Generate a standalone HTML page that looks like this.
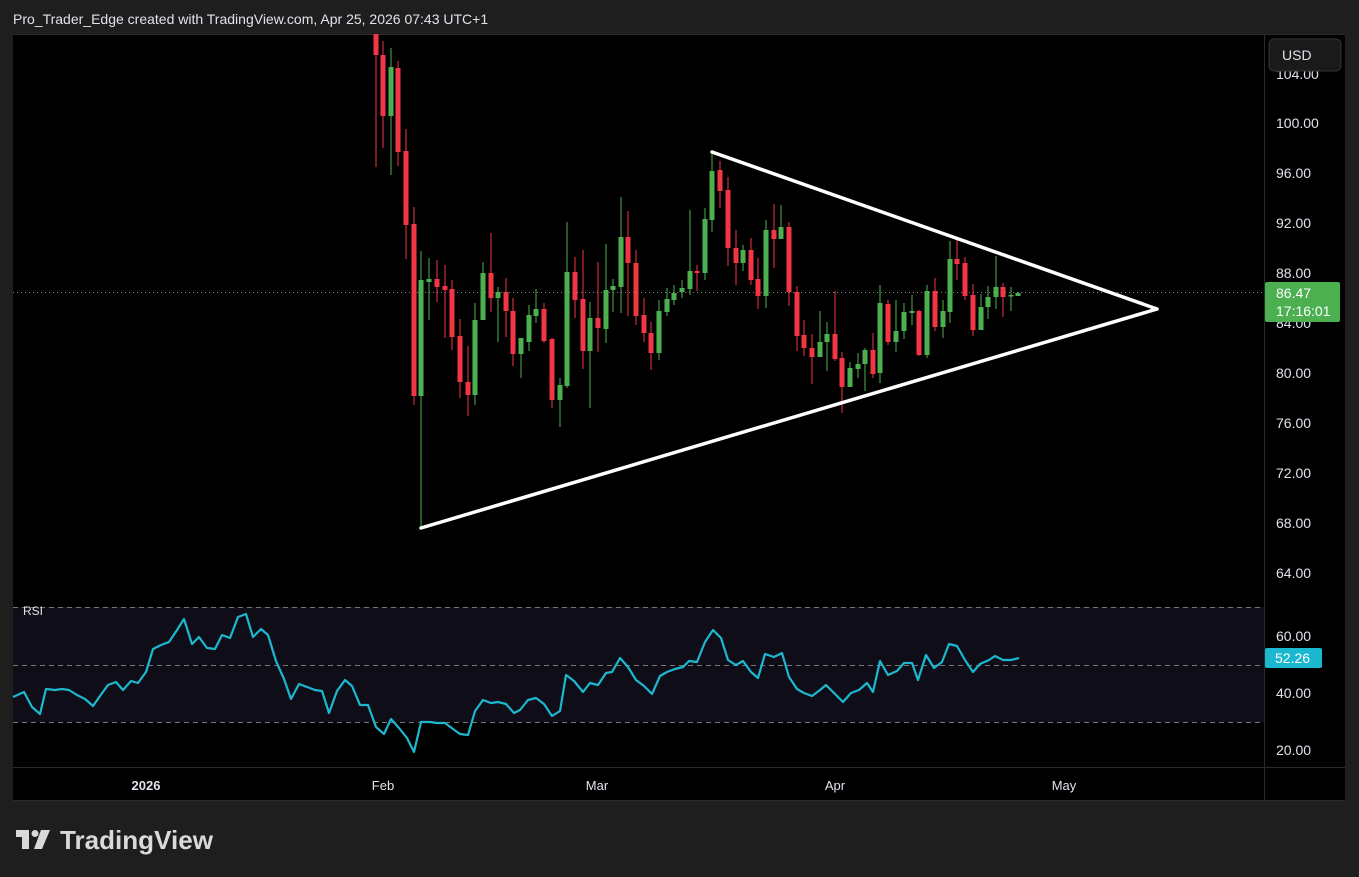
<!DOCTYPE html>
<html><head><meta charset="utf-8"><style>
html,body{margin:0;padding:0;background:#1e1e1e;width:1359px;height:877px;overflow:hidden}
svg{display:block;font-family:"Liberation Sans",sans-serif}
</style></head><body>
<svg id="s" width="1359" height="877" xmlns="http://www.w3.org/2000/svg">
<rect x="0" y="0" width="1359" height="877" fill="#1e1e1e"/>
<text x="13" y="24" fill="#e0e3eb" font-size="14">Pro_Trader_Edge created with TradingView.com, Apr 25, 2026 07:43 UTC+1</text>
<rect x="13" y="34" width="1332" height="767" fill="#000"/>
<rect x="13" y="607" width="1251" height="115" fill="#0f0d17"/>
<line x1="1264.5" y1="34" x2="1264.5" y2="801" stroke="#2a2a2a"/>
<line x1="13" y1="767.5" x2="1345" y2="767.5" stroke="#2a2a2a"/>
<line x1="13" y1="800.5" x2="1345" y2="800.5" stroke="#2a2a2a"/>
<line x1="13" y1="34.5" x2="1345" y2="34.5" stroke="#2a2a2a"/>
<g stroke="#777" stroke-dasharray="5,4" stroke-width="1">
<line x1="13" y1="607.5" x2="1264" y2="607.5"/>
<line x1="13" y1="665.5" x2="1264" y2="665.5"/>
<line x1="13" y1="722.5" x2="1264" y2="722.5"/>
</g>
<line x1="13" y1="292.5" x2="1264" y2="292.5" stroke="#888" stroke-dasharray="1,3"/>
<text x="23" y="615" fill="#e0e3eb" font-size="12">RSI</text>
<g id="c"></g>
<g stroke="#fff" stroke-width="3.5" stroke-linecap="round">
<line x1="712" y1="152" x2="1157" y2="309"/>
<line x1="421" y1="528" x2="1157" y2="309"/>
</g>
<polyline id="rsi" fill="none" stroke="#1cb8cf" stroke-width="2.2" stroke-linejoin="round"/>
<g fill="#e0e3eb" font-size="14">
<text x="1276" y="128">100.00</text>
<text x="1276" y="178">96.00</text>
<text x="1276" y="228">92.00</text>
<text x="1276" y="278">88.00</text>
<text x="1276" y="328">84.00</text>
<text x="1276" y="378">80.00</text>
<text x="1276" y="428">76.00</text>
<text x="1276" y="478">72.00</text>
<text x="1276" y="528">68.00</text>
<text x="1276" y="578">64.00</text>
<text x="1276" y="79">104.00</text>
<text x="1276" y="641">60.00</text>
<text x="1276" y="698">40.00</text>
<text x="1276" y="755">20.00</text>
<text x="146" y="790" text-anchor="middle" font-weight="bold" font-size="13">2026</text>
<text x="383" y="790" text-anchor="middle" font-size="13">Feb</text>
<text x="597" y="790" text-anchor="middle" font-size="13">Mar</text>
<text x="835" y="790" text-anchor="middle" font-size="13">Apr</text>
<text x="1064" y="790" text-anchor="middle" font-size="13">May</text>
</g>
<rect x="1269" y="39" width="72" height="32" rx="5" fill="#1a1a1a" stroke="#333"/>
<text x="1282" y="60" fill="#e0e3eb" font-size="14">USD</text>
<rect x="1265" y="282" width="75" height="40" rx="2" fill="#4caf50"/>
<text x="1276" y="298" fill="#fff" font-size="14">86.47</text>
<text x="1276" y="316" fill="#fff" font-size="14">17:16:01</text>
<rect x="1265" y="648" width="57" height="20" rx="2" fill="#1cb8cf"/>
<text x="1275" y="663" fill="#fff" font-size="14">52.26</text>
<g fill="#d9d9d9">
<rect x="16" y="830" width="13" height="7"/><rect x="22" y="830" width="7" height="19"/>
<circle cx="35" cy="833.5" r="3.5"/>
<polygon points="41,830 50,830 42,849 34,849"/>
<text x="60" y="849" font-size="26" font-weight="bold" textLength="153" lengthAdjust="spacingAndGlyphs">TradingView</text>
</g>
</svg>
<script>
var C=[[376,0,34,55,34,167],[383,0,55,116,41,148],[391,1,67,116,48,175],[398,0,68,152,61,166],[406,0,151,225,129,259],[414,0,224,396,207,405],[421,1,280,396,251,528],[429,1,279,282,258,320],[437,0,279,287,260,302],[445,0,286,290,265,338],[452,0,289,337,280,350],[460,0,336,382,319,398],[468,0,382,395,346,416],[475,1,320,395,303,405],[483,1,273,320,262,320],[491,0,273,298,233,312],[498,1,292,298,287,342],[506,0,292,311,278,337],[513,0,311,354,298,366],[521,1,338,354,338,378],[529,1,315,342,305,351],[536,1,309,316,289,323],[544,0,309,341,303,343],[552,0,339,400,338,408],[560,1,385,400,378,427],[567,1,272,386,222,388],[575,0,272,300,257,318],[583,0,299,351,250,369],[590,1,318,351,302,408],[598,0,318,328,262,352],[606,1,290,329,244,343],[613,1,286,290,279,312],[621,1,237,287,197,313],[628,0,237,263,211,316],[636,0,263,316,250,325],[644,0,315,333,298,342],[651,0,333,353,322,370],[659,1,311,353,300,360],[667,1,299,312,288,316],[674,1,293,300,285,305],[682,1,288,292,280,298],[690,1,271,289,210,295],[697,0,271,273,265,291],[705,1,219,273,208,280],[712,1,171,220,152,232],[720,0,170,191,161,208],[728,0,190,248,177,266],[736,0,248,263,230,285],[743,1,250,263,245,271],[751,0,250,280,238,285],[758,0,279,296,258,309],[766,1,230,296,220,308],[774,0,230,239,204,268],[781,1,227,239,205,239],[789,0,227,292,222,306],[797,0,292,336,286,351],[804,0,335,348,320,356],[812,0,348,357,334,384],[820,1,342,357,311,357],[827,1,334,342,322,371],[835,0,334,359,291,361],[842,0,358,387,352,413],[850,1,368,387,362,387],[858,1,364,369,353,378],[865,1,350,364,348,391],[873,0,350,374,333,378],[880,1,303,373,285,383],[888,0,304,342,300,345],[896,1,331,342,300,352],[904,1,312,331,303,339],[912,1,311,313,295,325],[919,0,311,355,310,356],[927,1,291,355,285,358],[935,0,291,327,278,331],[943,1,311,327,300,338],[950,1,259,312,241,323],[957,0,259,264,240,280],[965,0,263,296,257,300],[973,0,295,330,284,336],[981,1,307,330,294,330],[988,1,297,307,286,319],[996,1,287,297,256,309],[1003,0,287,297,283,317],[1011,1,295,296,287,311],[1018,1,293,296,292,296]];
var h='';C.forEach(function(c){var col=c[1]?'#4caf50':'#f23645';var bh=Math.max(1.5,c[3]-c[2]);
h+='<line x1="'+c[0]+'" y1="'+c[4]+'" x2="'+c[0]+'" y2="'+c[5]+'" stroke="'+col+'" stroke-width="1"/>';
h+='<rect x="'+(c[0]-2.5)+'" y="'+c[2]+'" width="5" height="'+bh+'" fill="'+col+'"/>';});
document.getElementById('c').innerHTML=h;
var R=[[13,697],[24,692],[32,707],[40,714],[46,689],[55,690],[62,689],[69,690],[77,695],[85,699],[93,706],[100,696],[108,685],[116,682],[123,690],[131,681],[138,683],[146,672],[153,649],[161,645],[169,642],[177,630],[184,619],[192,644],[199,637],[207,648],[215,649],[222,635],[230,638],[238,617],[246,614],[253,637],[261,629],[268,635],[276,661],[284,679],[291,699],[299,684],[307,687],[315,690],[322,691],[329,713],[337,691],[345,680],[352,686],[360,705],[368,705],[376,727],[384,734],[391,719],[399,728],[407,738],[414,752],[421,722],[430,722],[437,723],[445,723],[453,729],[460,734],[468,735],[475,711],[483,700],[491,703],[498,702],[506,704],[514,713],[520,710],[528,700],[536,698],[544,704],[552,716],[560,711],[566,675],[574,681],[583,692],[590,683],[598,685],[606,673],[612,672],[620,658],[628,667],[636,680],[644,686],[652,694],[660,676],[667,672],[675,669],[683,667],[689,661],[697,662],[705,642],[713,630],[721,638],[728,660],[736,665],[743,661],[751,672],[758,678],[765,654],[774,657],[782,653],[789,677],[797,689],[804,693],[812,696],[820,690],[826,685],[834,693],[843,702],[851,693],[859,690],[867,683],[873,692],[880,661],[888,675],[897,671],[904,663],[912,663],[918,680],[926,655],[934,668],[942,662],[949,644],[957,646],[965,660],[973,672],[980,664],[989,660],[995,656],[1003,660],[1011,660],[1019,658]];
document.getElementById('rsi').setAttribute('points',R.map(function(p){return p.join(',')}).join(' '));
</script>
</body></html>
